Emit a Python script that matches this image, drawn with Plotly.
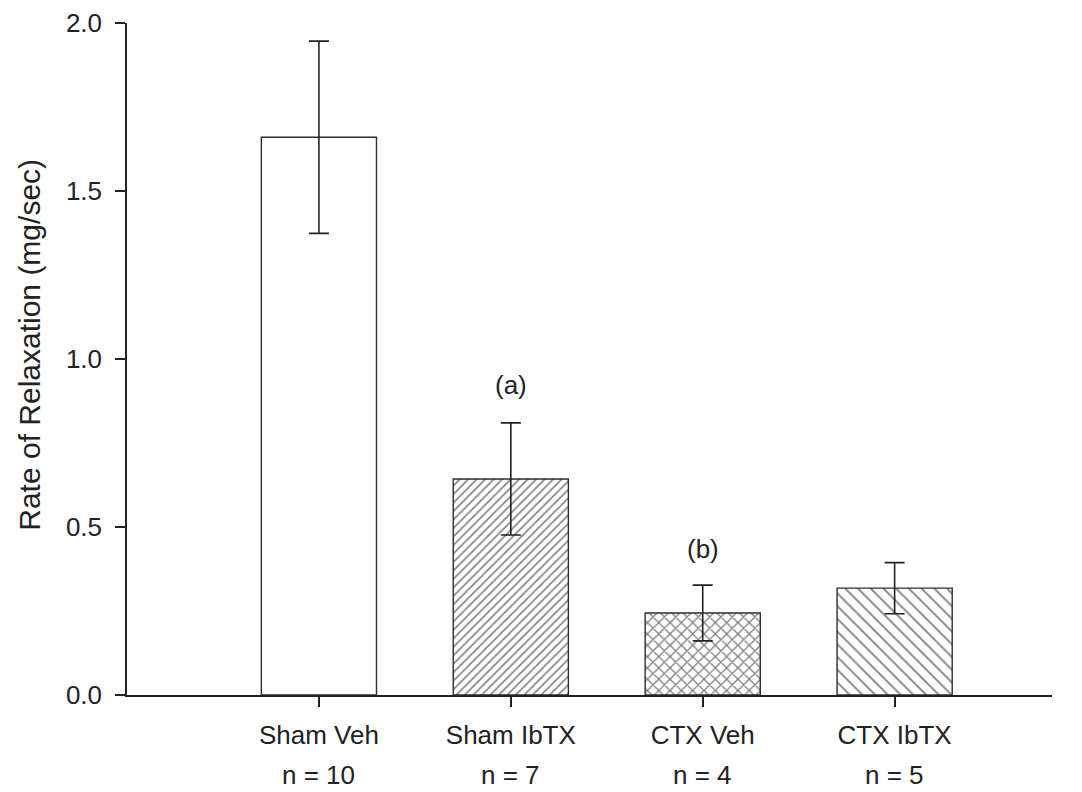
import plotly.graph_objects as go

# Group labels, sample sizes and measured values
groups = ["Sham Veh", "Sham IbTX", "CTX Veh", "CTX IbTX"]
n_labels = ["n = 10", "n = 7", "n = 4", "n = 5"]
positions = [1, 2, 3, 4]
rate_mean = [1.66, 0.643, 0.244, 0.318]
rate_sem = [0.286, 0.167, 0.083, 0.076]

# Significance marks placed above selected bars
sig_text = ["(a)", "(b)"]
sig_pos = [2, 3]
sig_y = [0.923, 0.435]

FONT = "Liberation Sans, Arial, sans-serif"
INK = "#222222"

fig = go.Figure()
fig.add_trace(go.Bar(
    x=positions,
    y=rate_mean,
    width=0.6,
    marker=dict(
        color="white",
        line=dict(color="#2e2e2e", width=1.4),
        pattern=dict(
            shape=["", "/", "x", "\\"],
            size=[8, 6, 8, 9],
            solidity=[0.2, 0.26, 0.3, 0.2],
            fgcolor="#000000",
            bgcolor="white",
            fillmode="overlay",
        ),
    ),
    error_y=dict(
        type="data",
        array=rate_sem,
        symmetric=True,
        color=INK,
        thickness=1.6,
        width=10,
    ),
    showlegend=False,
))

for txt, xp, yp in zip(sig_text, sig_pos, sig_y):
    fig.add_annotation(
        x=xp, y=yp, xref="x", yref="y", text=txt, showarrow=False,
        font=dict(family=FONT, size=26, color=INK),
    )

for xp, txt in zip(positions, n_labels):
    fig.add_annotation(
        x=xp, y=-0.119, xref="x", yref="paper", text=txt, showarrow=False,
        font=dict(family=FONT, size=26, color=INK), yanchor="middle",
    )

# Y-axis title
fig.add_annotation(
    x=-0.105, y=0.521, xref="paper", yref="paper",
    text="Rate of Relaxation (mg/sec)", textangle=-90, showarrow=False,
    font=dict(family=FONT, size=30, color=INK),
    xanchor="center", yanchor="middle",
)

fig.update_layout(
    width=1082,
    height=792,
    margin=dict(l=127, r=30, t=23, b=97),
    plot_bgcolor="white",
    paper_bgcolor="white",
    font=dict(family=FONT, color=INK),
    xaxis=dict(
        range=[0, 4.82],
        tickvals=positions,
        ticktext=groups,
        ticks="outside",
        ticklen=10,
        tickwidth=1.5,
        tickcolor=INK,
        showline=True,
        linecolor=INK,
        linewidth=2,
        showgrid=False,
        zeroline=False,
        automargin=False,
        tickfont=dict(family=FONT, size=26, color=INK),
        ticklabelstandoff=6,
    ),
    yaxis=dict(
        range=[0, 2.0],
        tickvals=[0, 0.5, 1.0, 1.5, 2.0],
        ticktext=["0.0", "0.5", "1.0", "1.5", "2.0"],
        ticks="outside",
        ticklen=10,
        tickwidth=1.5,
        tickcolor=INK,
        showline=True,
        linecolor=INK,
        linewidth=1.5,
        showgrid=False,
        zeroline=False,
        automargin=False,
        tickfont=dict(family=FONT, size=26, color=INK),
        ticklabelstandoff=8,
    ),
)

fig.write_html("out.html")
